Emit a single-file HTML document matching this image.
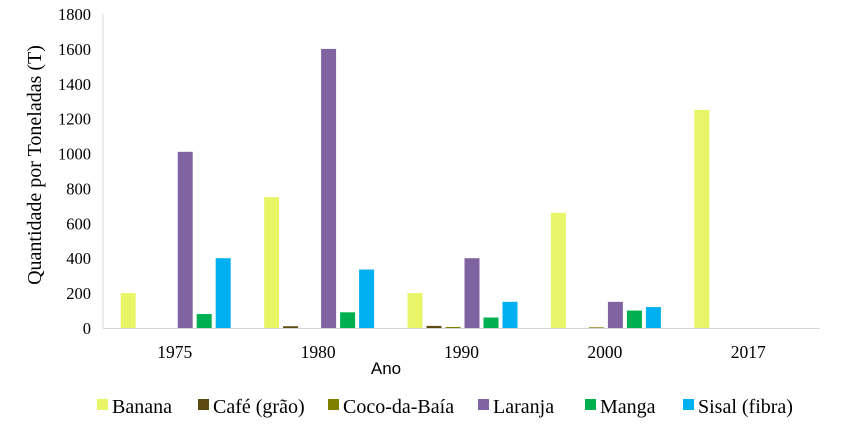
<!DOCTYPE html>
<html><head><meta charset="utf-8"><style>
body{margin:0;background:#fff;}
svg{display:block;font-family:"Liberation Serif",serif;}
</style></head><body>
<svg id="c" width="843" height="428"></svg>
<script>
const categories=["1975","1980","1990","2000","2017"];
const seriesNames=["Banana","Café (grão)","Coco-da-Baía","Laranja","Manga","Sisal (fibra)"];
const banana=[200,750,200,660,1250];
const cafe=[0,10,12,0,0];
const coco=[0,0,6,4,0];
const laranja=[1010,1600,400,150,0];
const manga=[80,90,60,100,0];
const sisal=[400,335,150,120,0];
const yTicks=[0,200,400,600,800,1000,1200,1400,1600,1800];
const colors=["#e8f566","#5c4a10","#808000","#8064a2","#00b050","#00b0f0"];
const series=[banana,cafe,coco,laranja,manga,sisal];
const NS="http://www.w3.org/2000/svg";
const svg=document.getElementById('c');
const x0=103,x1=820,y0=328,yTop=14,yMax=1800;
const gw=(x1-x0)/categories.length;
const y=v=>y0-(v/yMax)*(y0-yTop);
function mk(t,a,p){const e=document.createElementNS(NS,t);for(const k in a)e.setAttribute(k,a[k]);(p||svg).appendChild(e);return e;}
const ya=mk('line',{x1:x0,y1:yTop,x2:x0,y2:y0,stroke:'#d9d9d9','stroke-width':1});


yTicks.forEach(t=>{
 const tx=mk('text',{x:x0-12,y:y(t)+6,'text-anchor':'end','font-size':16.5,fill:'#000'});
 tx.textContent=t;
 
 
});
categories.forEach((c,i)=>{
 const cx=x0+gw*(i+0.5);
 series.forEach((s,j)=>{
  const bx=cx+(j-3)*19+3;
  const v=s[i];
  if(v<=0)return;
  const r=mk('rect',{x:bx,y:y(v),width:15,height:y0-y(v),fill:colors[j]});
  
  
 });
 const tx=mk('text',{x:cx,y:y0+30,'text-anchor':'middle','font-size':17.5});
 tx.textContent=c;
 
 
});
const xa=mk('line',{x1:x0,y1:y0+0.5,x2:x1,y2:y0+0.5,stroke:'#d9d9d9','stroke-width':1});


const xt=mk('text',{x:386,y:374,'text-anchor':'middle','font-size':17,'font-family':'Liberation Sans, sans-serif'});
xt.textContent='Ano';


const yt=mk('text',{x:0,y:0,'text-anchor':'middle','font-size':20,transform:'translate(41,165) rotate(-90)'});
yt.textContent='Quantidade por Toneladas (T)';


const lx=[97,198,328,478,585,683];
seriesNames.forEach((n,j)=>{
 const g=mk('g',{});
 
 
 mk('rect',{x:lx[j],y:399,width:11,height:11,fill:colors[j]},g);
 const t=mk('text',{x:lx[j]+15,y:413,'font-size':20},g);
 t.textContent=n;
});
</script>
</body></html>
